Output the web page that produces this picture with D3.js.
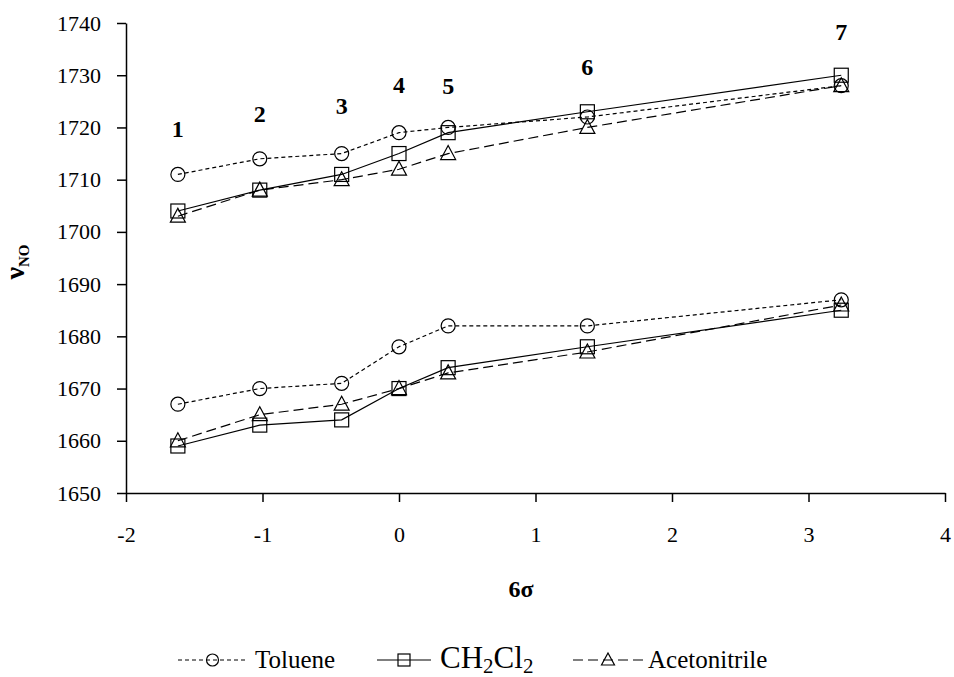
<!DOCTYPE html>
<html>
<head>
<meta charset="utf-8">
<script src="https://cdn.jsdelivr.net/npm/d3@7"></script>
<style>
  body { margin: 0; background: #fff; }
  svg { display: block; font-family: "Liberation Serif", "Times New Roman", serif; }
  .series { fill: none; stroke: #000; stroke-width: 1.2px; }
  .marker { fill: none; stroke: #000; stroke-width: 1.2px; }
</style>
</head>
<body>
<div class="js-chart"></div>
<script>
// 6σ values of the seven compounds
const sigma6 = [-1.62, -1.02, -0.42, 0, 0.36, 1.38, 3.24];
const compoundLabels = ['1', '2', '3', '4', '5', '6', '7'];
const compoundLabelY = [1718.2, 1721, 1722.6, 1726.6, 1726.4, 1730, 1736.7];

// ν(NO) bands, upper and lower, per solvent
const tolueneHigh = [1711, 1714, 1715, 1719, 1720, 1722, 1728];
const tolueneLow = [1667, 1670, 1671, 1678, 1682, 1682, 1687];
const ch2cl2High = [1704, 1708, 1711, 1715, 1719, 1723, 1730];
const ch2cl2Low = [1659, 1663, 1664, 1670, 1674, 1678, 1685];
const mecnHigh = [1703, 1708, 1710, 1712, 1715, 1720, 1728];
const mecnLow = [1660, 1665, 1667, 1670, 1673, 1677, 1686];

const xTicks = [-2, -1, 0, 1, 2, 3, 4];
const yTicks = [1650, 1660, 1670, 1680, 1690, 1700, 1710, 1720, 1730, 1740];

const solvents = [
  { name: 'Toluene', marker: 'circle', dash: '4,3', bands: [tolueneHigh, tolueneLow] },
  { name: 'CH2Cl2', marker: 'square', dash: null, bands: [ch2cl2High, ch2cl2Low] },
  { name: 'Acetonitrile', marker: 'triangle', dash: '10,5', bands: [mecnHigh, mecnLow] }
];

const WIDTH = 954;
const HEIGHT = 677;
const margin = { top: 23, right: 9, bottom: 184, left: 126 };
const width = WIDTH - margin.left - margin.right;
const height = HEIGHT - margin.top - margin.bottom;
const SERIF = '"Liberation Serif", "Times New Roman", serif';

const svg = d3.select('.js-chart').append('svg')
  .attr('width', WIDTH)
  .attr('height', HEIGHT);

svg.append('rect').attr('width', WIDTH).attr('height', HEIGHT).attr('fill', '#fff');

const plot = svg.append('g')
  .attr('transform', 'translate(' + margin.left + ',' + margin.top + ')');

const xScale = d3.scaleLinear().domain([-2, 4]).range([0, width]);
const yScale = d3.scaleLinear().domain([1650, 1740]).range([height, 0]);

// plain hyphen for negatives, like the original
const plainFormat = function(d) { return String(d); };

// axes
const xAxisG = plot.append('g')
  .attr('class', 'x axis')
  .attr('transform', 'translate(0,' + height + ')')
  .call(d3.axisBottom(xScale).tickValues(xTicks).tickSize(9).tickSizeOuter(0).tickPadding(24).tickFormat(plainFormat));

const yAxisG = plot.append('g')
  .attr('class', 'y axis')
  .call(d3.axisLeft(yScale).tickValues(yTicks).tickSize(9).tickSizeOuter(0).tickPadding(16).tickFormat(plainFormat));

[xAxisG, yAxisG].forEach(function(g) {
  g.attr('font-family', SERIF).attr('font-size', 22);
  g.selectAll('text').attr('fill', '#000');
  g.selectAll('line, path').attr('stroke', '#000').attr('stroke-width', 1.5);
});

// draw a marker symbol at (cx, cy)
const drawMarker = function drawMarker(g, type, cx, cy, r) {
  r = r || 7;
  if (type === 'circle') {
    g.append('circle').attr('class', 'marker').attr('cx', cx).attr('cy', cy).attr('r', r);
  } else if (type === 'square') {
    g.append('rect').attr('class', 'marker').attr('x', cx - r).attr('y', cy - r).attr('width', 2 * r).attr('height', 2 * r);
  } else {
    g.append('path').attr('class', 'marker')
      .attr('d', 'M' + cx + ',' + (cy - r - 1) + 'L' + (cx + r + 0.5) + ',' + (cy + r - 1) + 'L' + (cx - r - 0.5) + ',' + (cy + r - 1) + 'Z');
  }
};

const line = d3.line()
  .x(function(d, i) { return xScale(sigma6[i]); })
  .y(function(d) { return yScale(d); });

solvents.forEach(function(s) {
  s.bands.forEach(function(band) {
    plot.append('path')
      .datum(band)
      .attr('class', 'series')
      .attr('stroke-dasharray', s.dash)
      .attr('d', line);
    const g = plot.append('g');
    band.forEach(function(v, i) {
      drawMarker(g, s.marker, xScale(sigma6[i]), yScale(v));
    });
  });
});

// compound numbers
plot.selectAll('.clabel')
  .data(compoundLabels)
  .enter().append('text')
  .attr('class', 'clabel')
  .attr('x', function(d, i) { return xScale(sigma6[i]); })
  .attr('y', function(d, i) { return yScale(compoundLabelY[i]); })
  .attr('text-anchor', 'middle')
  .attr('font-size', '24px')
  .attr('font-weight', 'bold')
  .text(function(d) { return d; });

// axis titles
const yTitle = svg.append('text')
  .attr('transform', 'translate(24,262) rotate(-90)')
  .attr('text-anchor', 'middle')
  .attr('font-weight', 'bold')
  .attr('font-size', '28px');
yTitle.append('tspan').text('ν');
yTitle.append('tspan').attr('font-size', '15px').attr('dy', '5').text('NO');

svg.append('text')
  .attr('x', 521)
  .attr('y', 597)
  .attr('text-anchor', 'middle')
  .attr('font-weight', 'bold')
  .attr('font-size', '24px')
  .text('6σ');

// legend
const legend = svg.append('g').attr('transform', 'translate(0,660)');
const legendItems = [
  { s: solvents[0], x0: 178, x1: 247, text: 'Toluene', tx: 255 },
  { s: solvents[1], x0: 377, x1: 431, text: 'CH', tx: 440 },
  { s: solvents[2], x0: 573, x1: 643, text: 'Acetonitrile', tx: 648 }
];
legendItems.forEach(function(it) {
  legend.append('line')
    .attr('class', 'series')
    .attr('x1', it.x0).attr('x2', it.x1)
    .attr('stroke-dasharray', it.s.dash);
  const lg = legend.append('g');
  drawMarker(lg, it.s.marker, (it.x0 + it.x1) / 2, 0, 6);
  lg.select('.marker').attr('fill', '#fff');
  const t = legend.append('text')
    .attr('x', it.tx)
    .attr('y', 8)
    .attr('font-size', '25px');
  if (it.text === 'CH') {
    t.attr('font-size', '31px');
    t.append('tspan').text('CH');
    t.append('tspan').attr('font-size', '21px').attr('dy', 5).text('2');
    t.append('tspan').attr('dy', -5).text('Cl');
    t.append('tspan').attr('font-size', '21px').attr('dy', 5).text('2');
  } else {
    t.text(it.text);
  }
});
</script>
</body>
</html>
